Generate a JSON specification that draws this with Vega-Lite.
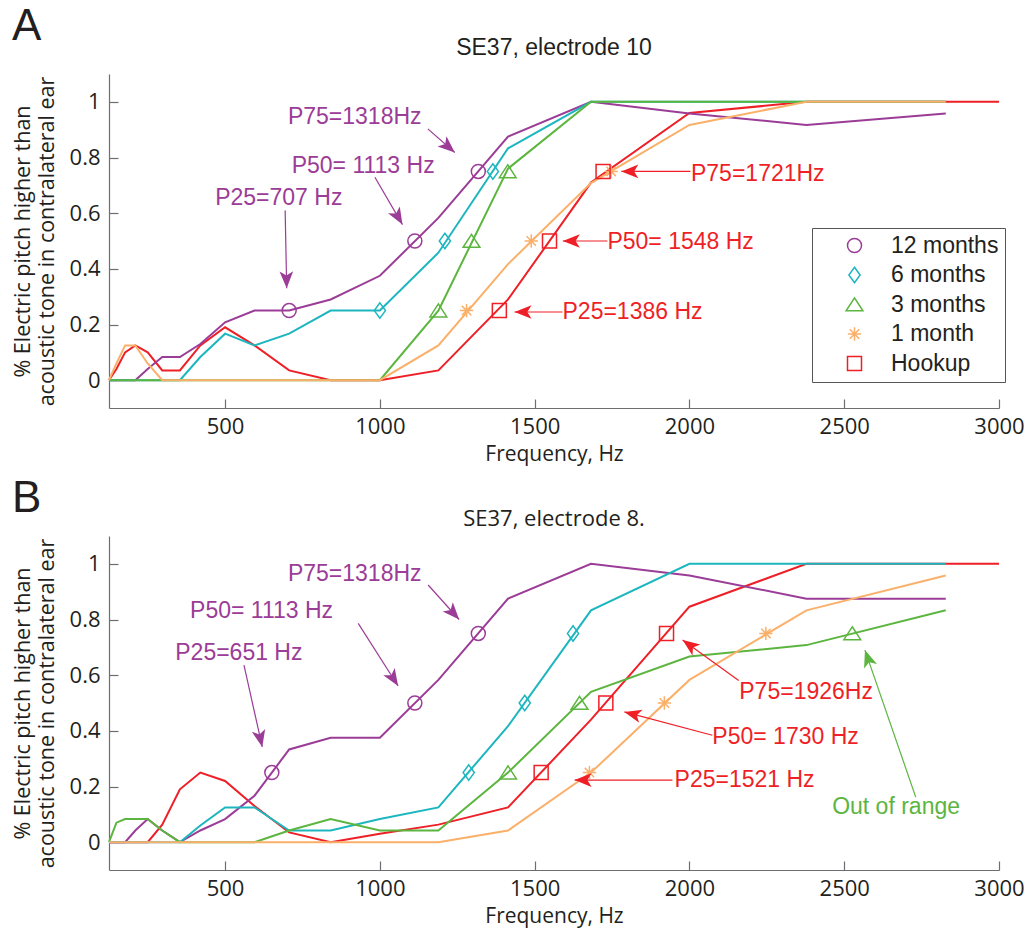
{
  "$schema": "https://vega.github.io/schema/vega-lite/v6.json",
  "padding": {"left": 12, "top": 5, "right": 5, "bottom": 5},
  "background": "white",
  "config": {
    "view": {"stroke": null},
    "font": "Liberation Sans",
    "axis": {"domainColor": "#6d6e71", "tickColor": "#6d6e71", "labelFont": "Open Sans", "labelFontSize": 22, "labelColor": "#231f20", "titleFont": "Open Sans", "titleFontSize": 21, "titleFontWeight": "normal", "titleColor": "#231f20", "grid": false, "tickSize": -9, "domainWidth": 1.2, "tickWidth": 1.2},
    "title": {"font": "Open Sans", "fontWeight": "normal", "color": "#231f20"},
    "concat": {"spacing": 13}
  },
  "datasets": {
    "lines": [
      {"p":"A","s":"Hookup","f":125,"v":0},{"p":"A","s":"Hookup","f":149,"v":0.04},{"p":"A","s":"Hookup","f":177,"v":0.1},{"p":"A","s":"Hookup","f":210,"v":0.125},{"p":"A","s":"Hookup","f":250,"v":0.1},{"p":"A","s":"Hookup","f":297,"v":0.035},{"p":"A","s":"Hookup","f":354,"v":0.035},{"p":"A","s":"Hookup","f":420,"v":0.125},{"p":"A","s":"Hookup","f":500,"v":0.19},{"p":"A","s":"Hookup","f":595,"v":0.125},{"p":"A","s":"Hookup","f":707,"v":0.035},{"p":"A","s":"Hookup","f":841,"v":0},{"p":"A","s":"Hookup","f":1000,"v":0},{"p":"A","s":"Hookup","f":1189,"v":0.035},{"p":"A","s":"Hookup","f":1414,"v":0.29},{"p":"A","s":"Hookup","f":1682,"v":0.71},{"p":"A","s":"Hookup","f":2000,"v":0.96},{"p":"A","s":"Hookup","f":2378,"v":1},{"p":"A","s":"Hookup","f":2828,"v":1},{"p":"A","s":"Hookup","f":3000,"v":1},
      {"p":"A","s":"12 months","f":125,"v":0},{"p":"A","s":"12 months","f":149,"v":0},{"p":"A","s":"12 months","f":177,"v":0},{"p":"A","s":"12 months","f":210,"v":0},{"p":"A","s":"12 months","f":250,"v":0.04},{"p":"A","s":"12 months","f":297,"v":0.083},{"p":"A","s":"12 months","f":354,"v":0.083},{"p":"A","s":"12 months","f":420,"v":0.13},{"p":"A","s":"12 months","f":500,"v":0.208},{"p":"A","s":"12 months","f":595,"v":0.25},{"p":"A","s":"12 months","f":707,"v":0.25},{"p":"A","s":"12 months","f":841,"v":0.29},{"p":"A","s":"12 months","f":1000,"v":0.375},{"p":"A","s":"12 months","f":1189,"v":0.583},{"p":"A","s":"12 months","f":1414,"v":0.875},{"p":"A","s":"12 months","f":1682,"v":1},{"p":"A","s":"12 months","f":2000,"v":0.958},{"p":"A","s":"12 months","f":2378,"v":0.917},{"p":"A","s":"12 months","f":2828,"v":0.958},
      {"p":"A","s":"6 months","f":125,"v":0},{"p":"A","s":"6 months","f":149,"v":0},{"p":"A","s":"6 months","f":177,"v":0},{"p":"A","s":"6 months","f":210,"v":0},{"p":"A","s":"6 months","f":250,"v":0},{"p":"A","s":"6 months","f":297,"v":0},{"p":"A","s":"6 months","f":354,"v":0},{"p":"A","s":"6 months","f":420,"v":0.083},{"p":"A","s":"6 months","f":500,"v":0.167},{"p":"A","s":"6 months","f":595,"v":0.125},{"p":"A","s":"6 months","f":707,"v":0.167},{"p":"A","s":"6 months","f":841,"v":0.25},{"p":"A","s":"6 months","f":1000,"v":0.25},{"p":"A","s":"6 months","f":1189,"v":0.458},{"p":"A","s":"6 months","f":1414,"v":0.833},{"p":"A","s":"6 months","f":1682,"v":1},{"p":"A","s":"6 months","f":2000,"v":1},{"p":"A","s":"6 months","f":2378,"v":1},{"p":"A","s":"6 months","f":2828,"v":1},
      {"p":"A","s":"3 months","f":125,"v":0},{"p":"A","s":"3 months","f":149,"v":0},{"p":"A","s":"3 months","f":177,"v":0},{"p":"A","s":"3 months","f":210,"v":0},{"p":"A","s":"3 months","f":250,"v":0},{"p":"A","s":"3 months","f":297,"v":0},{"p":"A","s":"3 months","f":354,"v":0},{"p":"A","s":"3 months","f":420,"v":0},{"p":"A","s":"3 months","f":500,"v":0},{"p":"A","s":"3 months","f":595,"v":0},{"p":"A","s":"3 months","f":707,"v":0},{"p":"A","s":"3 months","f":841,"v":0},{"p":"A","s":"3 months","f":1000,"v":0},{"p":"A","s":"3 months","f":1189,"v":0.25},{"p":"A","s":"3 months","f":1414,"v":0.76},{"p":"A","s":"3 months","f":1682,"v":1},{"p":"A","s":"3 months","f":2000,"v":1},{"p":"A","s":"3 months","f":2378,"v":1},{"p":"A","s":"3 months","f":2828,"v":1},
      {"p":"A","s":"1 month","f":125,"v":0},{"p":"A","s":"1 month","f":149,"v":0.06},{"p":"A","s":"1 month","f":177,"v":0.125},{"p":"A","s":"1 month","f":210,"v":0.125},{"p":"A","s":"1 month","f":250,"v":0.06},{"p":"A","s":"1 month","f":297,"v":0},{"p":"A","s":"1 month","f":354,"v":0},{"p":"A","s":"1 month","f":420,"v":0},{"p":"A","s":"1 month","f":500,"v":0},{"p":"A","s":"1 month","f":595,"v":0},{"p":"A","s":"1 month","f":707,"v":0},{"p":"A","s":"1 month","f":841,"v":0},{"p":"A","s":"1 month","f":1000,"v":0},{"p":"A","s":"1 month","f":1189,"v":0.125},{"p":"A","s":"1 month","f":1414,"v":0.417},{"p":"A","s":"1 month","f":1682,"v":0.708},{"p":"A","s":"1 month","f":2000,"v":0.917},{"p":"A","s":"1 month","f":2378,"v":1},{"p":"A","s":"1 month","f":2828,"v":1},
      {"p":"B","s":"Hookup","f":125,"v":0},{"p":"B","s":"Hookup","f":149,"v":0},{"p":"B","s":"Hookup","f":177,"v":0},{"p":"B","s":"Hookup","f":210,"v":0},{"p":"B","s":"Hookup","f":250,"v":0},{"p":"B","s":"Hookup","f":297,"v":0.063},{"p":"B","s":"Hookup","f":354,"v":0.19},{"p":"B","s":"Hookup","f":420,"v":0.25},{"p":"B","s":"Hookup","f":500,"v":0.22},{"p":"B","s":"Hookup","f":595,"v":0.13},{"p":"B","s":"Hookup","f":707,"v":0.035},{"p":"B","s":"Hookup","f":841,"v":0},{"p":"B","s":"Hookup","f":1000,"v":0.03},{"p":"B","s":"Hookup","f":1189,"v":0.063},{"p":"B","s":"Hookup","f":1414,"v":0.125},{"p":"B","s":"Hookup","f":1682,"v":0.44},{"p":"B","s":"Hookup","f":2000,"v":0.846},{"p":"B","s":"Hookup","f":2378,"v":1},{"p":"B","s":"Hookup","f":2828,"v":1},{"p":"B","s":"Hookup","f":3000,"v":1},
      {"p":"B","s":"12 months","f":125,"v":0},{"p":"B","s":"12 months","f":149,"v":0},{"p":"B","s":"12 months","f":177,"v":0},{"p":"B","s":"12 months","f":210,"v":0.042},{"p":"B","s":"12 months","f":250,"v":0.083},{"p":"B","s":"12 months","f":297,"v":0.042},{"p":"B","s":"12 months","f":354,"v":0},{"p":"B","s":"12 months","f":420,"v":0.042},{"p":"B","s":"12 months","f":500,"v":0.083},{"p":"B","s":"12 months","f":595,"v":0.167},{"p":"B","s":"12 months","f":707,"v":0.333},{"p":"B","s":"12 months","f":841,"v":0.375},{"p":"B","s":"12 months","f":1000,"v":0.375},{"p":"B","s":"12 months","f":1189,"v":0.583},{"p":"B","s":"12 months","f":1414,"v":0.875},{"p":"B","s":"12 months","f":1682,"v":1},{"p":"B","s":"12 months","f":2000,"v":0.958},{"p":"B","s":"12 months","f":2378,"v":0.875},{"p":"B","s":"12 months","f":2828,"v":0.875},
      {"p":"B","s":"6 months","f":125,"v":0},{"p":"B","s":"6 months","f":149,"v":0},{"p":"B","s":"6 months","f":177,"v":0},{"p":"B","s":"6 months","f":210,"v":0},{"p":"B","s":"6 months","f":250,"v":0},{"p":"B","s":"6 months","f":297,"v":0},{"p":"B","s":"6 months","f":354,"v":0},{"p":"B","s":"6 months","f":420,"v":0.06},{"p":"B","s":"6 months","f":500,"v":0.125},{"p":"B","s":"6 months","f":595,"v":0.125},{"p":"B","s":"6 months","f":707,"v":0.042},{"p":"B","s":"6 months","f":841,"v":0.042},{"p":"B","s":"6 months","f":1000,"v":0.083},{"p":"B","s":"6 months","f":1189,"v":0.125},{"p":"B","s":"6 months","f":1414,"v":0.417},{"p":"B","s":"6 months","f":1682,"v":0.833},{"p":"B","s":"6 months","f":2000,"v":1},{"p":"B","s":"6 months","f":2378,"v":1},{"p":"B","s":"6 months","f":2828,"v":1},
      {"p":"B","s":"3 months","f":125,"v":0},{"p":"B","s":"3 months","f":149,"v":0.07},{"p":"B","s":"3 months","f":177,"v":0.083},{"p":"B","s":"3 months","f":210,"v":0.083},{"p":"B","s":"3 months","f":250,"v":0.083},{"p":"B","s":"3 months","f":297,"v":0.042},{"p":"B","s":"3 months","f":354,"v":0},{"p":"B","s":"3 months","f":420,"v":0},{"p":"B","s":"3 months","f":500,"v":0},{"p":"B","s":"3 months","f":595,"v":0},{"p":"B","s":"3 months","f":707,"v":0.042},{"p":"B","s":"3 months","f":841,"v":0.083},{"p":"B","s":"3 months","f":1000,"v":0.042},{"p":"B","s":"3 months","f":1189,"v":0.042},{"p":"B","s":"3 months","f":1414,"v":0.25},{"p":"B","s":"3 months","f":1682,"v":0.54},{"p":"B","s":"3 months","f":2000,"v":0.667},{"p":"B","s":"3 months","f":2378,"v":0.708},{"p":"B","s":"3 months","f":2828,"v":0.833},
      {"p":"B","s":"1 month","f":125,"v":0},{"p":"B","s":"1 month","f":149,"v":0},{"p":"B","s":"1 month","f":177,"v":0},{"p":"B","s":"1 month","f":210,"v":0},{"p":"B","s":"1 month","f":250,"v":0},{"p":"B","s":"1 month","f":297,"v":0},{"p":"B","s":"1 month","f":354,"v":0},{"p":"B","s":"1 month","f":420,"v":0},{"p":"B","s":"1 month","f":500,"v":0},{"p":"B","s":"1 month","f":595,"v":0},{"p":"B","s":"1 month","f":707,"v":0},{"p":"B","s":"1 month","f":841,"v":0},{"p":"B","s":"1 month","f":1000,"v":0},{"p":"B","s":"1 month","f":1189,"v":0},{"p":"B","s":"1 month","f":1414,"v":0.042},{"p":"B","s":"1 month","f":1682,"v":0.25},{"p":"B","s":"1 month","f":2000,"v":0.583},{"p":"B","s":"1 month","f":2378,"v":0.833},{"p":"B","s":"1 month","f":2828,"v":0.958}
    ],
    "markers": [
      {"p":"A","s":"12 months","f":707,"v":0.25},{"p":"A","s":"12 months","f":1113,"v":0.5},{"p":"A","s":"12 months","f":1318,"v":0.75},
      {"p":"A","s":"6 months","f":1000,"v":0.25},{"p":"A","s":"6 months","f":1210,"v":0.5},{"p":"A","s":"6 months","f":1365,"v":0.75},
      {"p":"A","s":"3 months","f":1189,"v":0.25},{"p":"A","s":"3 months","f":1296,"v":0.5},{"p":"A","s":"3 months","f":1413,"v":0.75},
      {"p":"A","s":"1 month","f":1280,"v":0.25},{"p":"A","s":"1 month","f":1489,"v":0.5},{"p":"A","s":"1 month","f":1747,"v":0.75},
      {"p":"A","s":"Hookup","f":1386,"v":0.25},{"p":"A","s":"Hookup","f":1548,"v":0.5},{"p":"A","s":"Hookup","f":1721,"v":0.75},
      {"p":"B","s":"12 months","f":651,"v":0.25},{"p":"B","s":"12 months","f":1113,"v":0.5},{"p":"B","s":"12 months","f":1318,"v":0.75},
      {"p":"B","s":"6 months","f":1287,"v":0.25},{"p":"B","s":"6 months","f":1468,"v":0.5},{"p":"B","s":"6 months","f":1624,"v":0.75},
      {"p":"B","s":"3 months","f":1414,"v":0.25},{"p":"B","s":"3 months","f":1645,"v":0.5},{"p":"B","s":"3 months","f":2526,"v":0.75},
      {"p":"B","s":"1 month","f":1677,"v":0.25},{"p":"B","s":"1 month","f":1919,"v":0.5},{"p":"B","s":"1 month","f":2247,"v":0.75},
      {"p":"B","s":"Hookup","f":1521,"v":0.25},{"p":"B","s":"Hookup","f":1730,"v":0.5},{"p":"B","s":"Hookup","f":1926,"v":0.75}
    ],
    "arrows": [
      {"p":"A","s":"12 months","f":694,"v":0.61,"tf":699,"tv":0.33},
      {"p":"A","s":"12 months","f":984,"v":0.729,"tf":1073,"tv":0.559},
      {"p":"A","s":"12 months","f":1155,"v":0.903,"tf":1242,"tv":0.818},
      {"p":"A","s":"Hookup","f":2003,"v":0.75,"tf":1780,"tv":0.75},
      {"p":"A","s":"Hookup","f":1735,"v":0.5,"tf":1591,"tv":0.5},
      {"p":"A","s":"Hookup","f":1590,"v":0.245,"tf":1435,"tv":0.245},
      {"p":"B","s":"12 months","f":561,"v":0.636,"tf":620,"tv":0.342},
      {"p":"B","s":"12 months","f":930,"v":0.786,"tf":1059,"tv":0.561},
      {"p":"B","s":"12 months","f":1156,"v":0.924,"tf":1256,"tv":0.8},
      {"p":"B","s":"Hookup","f":2159,"v":0.581,"tf":1978,"tv":0.726},
      {"p":"B","s":"Hookup","f":2074,"v":0.384,"tf":1790,"tv":0.468},
      {"p":"B","s":"Hookup","f":1945,"v":0.223,"tf":1629,"tv":0.223},
      {"p":"B","s":"3 months","f":2731,"v":0.162,"tf":2567,"tv":0.69}
    ],
    "notes": [
      {"p":"A","s":"12 months","f":703,"v":0.944,"t":"P75=1318Hz"},
      {"p":"A","s":"12 months","f":715,"v":0.771,"t":"P50= 1113 Hz"},
      {"p":"A","s":"12 months","f":468,"v":0.654,"t":"P25=707 Hz"},
      {"p":"A","s":"Hookup","f":2005,"v":0.742,"t":"P75=1721Hz"},
      {"p":"A","s":"Hookup","f":1735,"v":0.496,"t":"P50= 1548 Hz"},
      {"p":"A","s":"Hookup","f":1590,"v":0.245,"t":"P25=1386 Hz"},
      {"p":"B","s":"12 months","f":703,"v":0.964,"t":"P75=1318Hz"},
      {"p":"B","s":"12 months","f":387,"v":0.831,"t":"P50= 1113 Hz"},
      {"p":"B","s":"12 months","f":339,"v":0.68,"t":"P25=651 Hz"},
      {"p":"B","s":"Hookup","f":2161,"v":0.539,"t":"P75=1926Hz"},
      {"p":"B","s":"Hookup","f":2074,"v":0.377,"t":"P50= 1730 Hz"},
      {"p":"B","s":"Hookup","f":1952,"v":0.222,"t":"P25=1521 Hz"},
      {"p":"B","s":"3 months","f":2461,"v":0.125,"t":"Out of range"}
    ]
  },
  "vconcat": [
    {
      "title": {"text": "A", "anchor": "start", "fontSize": 44, "font": "Liberation Sans", "offset": -12},
      "vconcat": [
        {
          "title": {"text": "SE37, electrode 10", "fontSize": 23, "font": "Liberation Sans", "offset": 14},
          "width": 890, "height": 334,
          "layer": [
            {"data": {"name": "lines"}, "transform": [{"filter": "datum.p === 'A'"}],
             "mark": {"type": "line", "strokeWidth": 2},
             "encoding": {
               "x": {"field": "f", "type": "quantitative", "scale": {"domain": [125, 3000], "nice": false, "zero": false}, "axis": {"values": [500, 1000, 1500, 2000, 2500, 3000], "format": "d", "title": "Frequency, Hz", "labelFont": "Open Sans", "labelFontSize": 22, "titleFont": "Open Sans", "titleFontSize": 21, "labelPadding": 17, "titlePadding": 6, "labelFlush": false}},
               "y": {"field": "v", "type": "quantitative", "scale": {"domain": [-0.1, 1.1], "nice": false, "zero": false}, "axis": {"values": [0, 0.2, 0.4, 0.6, 0.8, 1], "format": "~g", "title": ["% Electric pitch higher than", "acoustic tone in contralateral ear"], "labelFont": "Open Sans", "labelFontSize": 22, "titleFont": "Open Sans", "titleFontSize": 21.5, "labelPadding": 18, "titlePadding": 11, "titleLineHeight": 24}},
               "stroke": {"field": "s", "type": "nominal", "scale": {"domain": ["Hookup", "12 months", "6 months", "3 months", "1 month"], "range": ["#ee1f26", "#9b3c97", "#1db6bf", "#5cb53f", "#fbb06a"]}, "legend": null}
             }},
            {"data": {"name": "markers"}, "transform": [{"filter": "datum.p === 'A'"}],
             "mark": {"type": "point", "filled": false, "strokeWidth": 1.5, "size": 196, "opacity": 1},
             "encoding": {
               "x": {"field": "f", "type": "quantitative", "scale": {"domain": [125, 3000], "nice": false, "zero": false}},
               "y": {"field": "v", "type": "quantitative", "scale": {"domain": [-0.1, 1.1], "nice": false, "zero": false}},
               "color": {"field": "s", "type": "nominal", "scale": {"domain": ["12 months", "6 months", "3 months", "1 month", "Hookup"], "range": ["#9b3c97", "#1db6bf", "#5cb53f", "#fbb06a", "#ee1f26"]},
                 "legend": {"orient": "none", "legendX": 703, "legendY": 154, "title": null, "fillColor": "white", "strokeColor": "#555555", "padding": 6, "symbolOffset": 25, "labelOffset": 25, "labelFontSize": 23, "labelFont": "Liberation Sans", "labelColor": "#231f20", "rowPadding": 5.5, "symbolSize": 196, "symbolStrokeWidth": 1.5}},
               "shape": {"field": "s", "type": "nominal", "scale": {"domain": ["12 months", "6 months", "3 months", "1 month", "Hookup"], "range": ["circle", "M0,-1.1L0.8,0L0,1.1L-0.8,0Z", "M0,-0.95L1.2,0.9L-1.2,0.9Z", "M-0.95,0L0.95,0M0,-0.95L0,0.95M-0.67,-0.67L0.67,0.67M-0.67,0.67L0.67,-0.67", "square"]},
                 "legend": {"orient": "none", "legendX": 703, "legendY": 154, "title": null, "fillColor": "white", "strokeColor": "#555555", "padding": 6, "symbolOffset": 25, "labelOffset": 25, "labelFontSize": 23, "labelFont": "Liberation Sans", "labelColor": "#231f20", "rowPadding": 5.5, "symbolSize": 196, "symbolStrokeWidth": 1.5}}
             }},
            {"data": {"name": "arrows"}, "transform": [{"filter": "datum.p === 'A'"}],
             "mark": {"type": "rule", "strokeWidth": 1.2},
             "encoding": {
               "x": {"field": "f", "type": "quantitative", "scale": {"domain": [125, 3000], "nice": false, "zero": false}},
               "y": {"field": "v", "type": "quantitative", "scale": {"domain": [-0.1, 1.1], "nice": false, "zero": false}},
               "x2": {"field": "tf"}, "y2": {"field": "tv"},
               "stroke": {"field": "s", "type": "nominal", "scale": {"domain": ["Hookup", "12 months", "6 months", "3 months", "1 month"], "range": ["#ee1f26", "#9b3c97", "#1db6bf", "#5cb53f", "#fbb06a"]}, "legend": null}
             }},
            {"data": {"name": "arrows"}, "transform": [{"filter": "datum.p === 'A'"}, {"calculate": "atan2(-(datum.tv - datum.v) * 278, (datum.tf - datum.f) * 0.31) * 180 / PI", "as": "ang"}],
             "mark": {"type": "point", "shape": "M0,0L-2,-0.8L-1.5,0L-2,0.8Z", "filled": true, "size": 289, "strokeWidth": 0, "opacity": 1},
             "encoding": {
               "x": {"field": "tf", "type": "quantitative", "scale": {"domain": [125, 3000], "nice": false, "zero": false}},
               "y": {"field": "tv", "type": "quantitative", "scale": {"domain": [-0.1, 1.1], "nice": false, "zero": false}},
               "fill": {"field": "s", "type": "nominal", "scale": {"domain": ["Hookup", "12 months", "6 months", "3 months", "1 month"], "range": ["#ee1f26", "#9b3c97", "#1db6bf", "#5cb53f", "#fbb06a"]}, "legend": null},
               "angle": {"field": "ang", "type": "quantitative", "scale": null}
             }},
            {"data": {"name": "notes"}, "transform": [{"filter": "datum.p === 'A'"}],
             "mark": {"type": "text", "align": "left", "baseline": "middle", "fontSize": 23, "font": "Liberation Sans"},
             "encoding": {
               "x": {"field": "f", "type": "quantitative", "scale": {"domain": [125, 3000], "nice": false, "zero": false}},
               "y": {"field": "v", "type": "quantitative", "scale": {"domain": [-0.1, 1.1], "nice": false, "zero": false}},
               "text": {"field": "t"},
               "fill": {"field": "s", "type": "nominal", "scale": {"domain": ["Hookup", "12 months", "6 months", "3 months", "1 month"], "range": ["#ee1f26", "#9b3c97", "#1db6bf", "#5cb53f", "#fbb06a"]}, "legend": null}
             }}
          ]
        }
      ]
    },
    {
      "title": {"text": "B", "anchor": "start", "fontSize": 44, "font": "Liberation Sans", "offset": -8, "dy": 5},
      "vconcat": [
        {
          "title": {"text": "SE37, electrode 8.", "fontSize": 22, "font": "Open Sans", "offset": 5},
          "width": 890, "height": 334,
          "layer": [
            {"data": {"name": "lines"}, "transform": [{"filter": "datum.p === 'B'"}],
             "mark": {"type": "line", "strokeWidth": 2},
             "encoding": {
               "x": {"field": "f", "type": "quantitative", "scale": {"domain": [125, 3000], "nice": false, "zero": false}, "axis": {"values": [500, 1000, 1500, 2000, 2500, 3000], "format": "d", "title": "Frequency, Hz", "labelFont": "Open Sans", "labelFontSize": 22, "titleFont": "Open Sans", "titleFontSize": 21, "labelPadding": 17, "titlePadding": 6, "labelFlush": false}},
               "y": {"field": "v", "type": "quantitative", "scale": {"domain": [-0.1, 1.1], "nice": false, "zero": false}, "axis": {"values": [0, 0.2, 0.4, 0.6, 0.8, 1], "format": "~g", "title": ["% Electric pitch higher than", "acoustic tone in contralateral ear"], "labelFont": "Open Sans", "labelFontSize": 22, "titleFont": "Open Sans", "titleFontSize": 21.5, "labelPadding": 18, "titlePadding": 11, "titleLineHeight": 24}},
               "stroke": {"field": "s", "type": "nominal", "scale": {"domain": ["Hookup", "12 months", "6 months", "3 months", "1 month"], "range": ["#ee1f26", "#9b3c97", "#1db6bf", "#5cb53f", "#fbb06a"]}, "legend": null}
             }},
            {"data": {"name": "markers"}, "transform": [{"filter": "datum.p === 'B'"}],
             "mark": {"type": "point", "filled": false, "strokeWidth": 1.5, "size": 196, "opacity": 1},
             "encoding": {
               "x": {"field": "f", "type": "quantitative", "scale": {"domain": [125, 3000], "nice": false, "zero": false}},
               "y": {"field": "v", "type": "quantitative", "scale": {"domain": [-0.1, 1.1], "nice": false, "zero": false}},
               "stroke": {"field": "s", "type": "nominal", "scale": {"domain": ["Hookup", "12 months", "6 months", "3 months", "1 month"], "range": ["#ee1f26", "#9b3c97", "#1db6bf", "#5cb53f", "#fbb06a"]}, "legend": null},
               "shape": {"field": "s", "type": "nominal", "scale": {"domain": ["12 months", "6 months", "3 months", "1 month", "Hookup"], "range": ["circle", "M0,-1.1L0.8,0L0,1.1L-0.8,0Z", "M0,-0.95L1.2,0.9L-1.2,0.9Z", "M-0.95,0L0.95,0M0,-0.95L0,0.95M-0.67,-0.67L0.67,0.67M-0.67,0.67L0.67,-0.67", "square"]}, "legend": null}
             }},
            {"data": {"name": "arrows"}, "transform": [{"filter": "datum.p === 'B'"}],
             "mark": {"type": "rule", "strokeWidth": 1.2},
             "encoding": {
               "x": {"field": "f", "type": "quantitative", "scale": {"domain": [125, 3000], "nice": false, "zero": false}},
               "y": {"field": "v", "type": "quantitative", "scale": {"domain": [-0.1, 1.1], "nice": false, "zero": false}},
               "x2": {"field": "tf"}, "y2": {"field": "tv"},
               "stroke": {"field": "s", "type": "nominal", "scale": {"domain": ["Hookup", "12 months", "6 months", "3 months", "1 month"], "range": ["#ee1f26", "#9b3c97", "#1db6bf", "#5cb53f", "#fbb06a"]}, "legend": null}
             }},
            {"data": {"name": "arrows"}, "transform": [{"filter": "datum.p === 'B'"}, {"calculate": "atan2(-(datum.tv - datum.v) * 278, (datum.tf - datum.f) * 0.31) * 180 / PI", "as": "ang"}],
             "mark": {"type": "point", "shape": "M0,0L-2,-0.8L-1.5,0L-2,0.8Z", "filled": true, "size": 289, "strokeWidth": 0, "opacity": 1},
             "encoding": {
               "x": {"field": "tf", "type": "quantitative", "scale": {"domain": [125, 3000], "nice": false, "zero": false}},
               "y": {"field": "tv", "type": "quantitative", "scale": {"domain": [-0.1, 1.1], "nice": false, "zero": false}},
               "fill": {"field": "s", "type": "nominal", "scale": {"domain": ["Hookup", "12 months", "6 months", "3 months", "1 month"], "range": ["#ee1f26", "#9b3c97", "#1db6bf", "#5cb53f", "#fbb06a"]}, "legend": null},
               "angle": {"field": "ang", "type": "quantitative", "scale": null}
             }},
            {"data": {"name": "notes"}, "transform": [{"filter": "datum.p === 'B'"}],
             "mark": {"type": "text", "align": "left", "baseline": "middle", "fontSize": 23, "font": "Liberation Sans"},
             "encoding": {
               "x": {"field": "f", "type": "quantitative", "scale": {"domain": [125, 3000], "nice": false, "zero": false}},
               "y": {"field": "v", "type": "quantitative", "scale": {"domain": [-0.1, 1.1], "nice": false, "zero": false}},
               "text": {"field": "t"},
               "fill": {"field": "s", "type": "nominal", "scale": {"domain": ["Hookup", "12 months", "6 months", "3 months", "1 month"], "range": ["#ee1f26", "#9b3c97", "#1db6bf", "#5cb53f", "#fbb06a"]}, "legend": null}
             }}
          ]
        }
      ]
    }
  ]
}
